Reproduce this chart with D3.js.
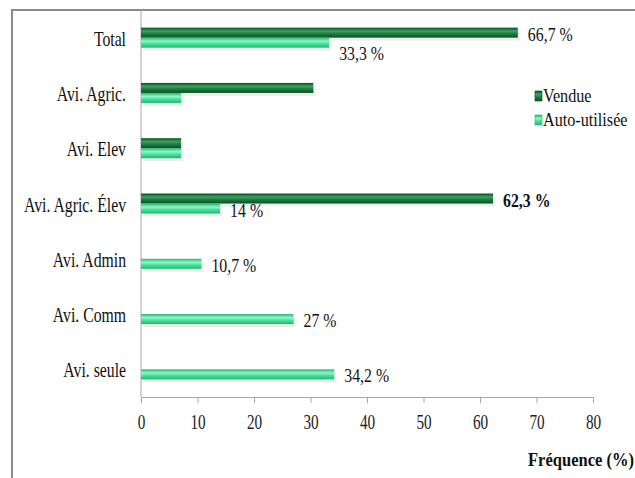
<!DOCTYPE html>
<html>
<head>
<meta charset="utf-8">
<script src="https://cdn.jsdelivr.net/npm/d3@7"></script>
<style>
  body { margin: 0; background: #fff; }
</style>
</head>
<body>
<div id="chart"></div>
<script>
// Data
const categories = ['Total', 'Avi. Agric.', 'Avi. Elev', 'Avi. Agric. Élev', 'Avi. Admin', 'Avi. Comm', 'Avi. seule'];
const vendue = [66.7, 30.5, 7.1, 62.3, null, null, null];
const autoUtilisee = [33.3, 7.1, 7.1, 14, 10.7, 27, 34.2];
const vendueLabels = ['66,7 %', '', '', '62,3 %', '', '', ''];
const autoLabels = ['33,3 %', '', '', '14 %', '10,7 %', '27 %', '34,2 %'];
const xTicks = [0, 10, 20, 30, 40, 50, 60, 70, 80];

const W = 635, H = 478;
const FONT = 'Liberation Serif';
const svg = d3.select('#chart').append('svg')
    .attr('width', W)
    .attr('height', H)
    .attr('font-family', FONT);

// condensed-looking serif text, like the original picture
function label(txt, tx, ty, size, sx, anchor, weight) {
    return svg.append('text')
        .attr('transform', `translate(${tx},${ty}) scale(${sx},1)`)
        .attr('font-family', FONT)
        .attr('font-size', size)
        .attr('font-weight', weight || 'normal')
        .attr('text-anchor', anchor || 'start')
        .attr('fill', '#111')
        .text(txt);
}

// gradients for the cylinder look
const defs = svg.append('defs');
function grad(id, edge, mid, hi) {
    const g = defs.append('linearGradient').attr('id', id)
        .attr('x1', 0).attr('y1', 0).attr('x2', 0).attr('y2', 1);
    g.append('stop').attr('offset', '0%').attr('stop-color', edge);
    g.append('stop').attr('offset', '35%').attr('stop-color', hi);
    g.append('stop').attr('offset', '60%').attr('stop-color', mid);
    g.append('stop').attr('offset', '100%').attr('stop-color', edge);
}
grad('gV', '#0b4d24', '#1f7d41', '#3aa462');
grad('gA', '#25b572', '#48e39c', '#8ff7c8');

// frame
svg.append('path')
    .attr('d', `M12,${H} L12,10 L${W},10`)
    .attr('fill', 'none')
    .attr('stroke', '#8a8a8a')
    .attr('stroke-width', 2);

const x = d3.scaleLinear().domain([0, 80]).range([141, 593]);
const y = d3.scaleBand().domain(categories).range([10, 397]);

// axes
svg.append('line')
    .attr('x1', x(0)).attr('x2', x(0))
    .attr('y1', 10).attr('y2', 397)
    .attr('stroke', '#a8a8a8');

const xAxis = svg.append('g')
    .attr('transform', 'translate(0,397)')
    .call(d3.axisBottom(x).tickValues(xTicks).tickSize(6).tickSizeOuter(0));
xAxis.select('.domain').attr('stroke', '#a8a8a8');
xAxis.selectAll('.tick line').attr('stroke', '#a8a8a8');
xAxis.selectAll('.tick text')
    .attr('font-family', FONT)
    .attr('font-size', 20)
    .attr('fill', '#222')
    .attr('y', 32)
    .attr('dy', null)
    .attr('transform', 'scale(0.76,1)');

// category labels
categories.forEach(c => {
    label(c, 126, y(c) + y.bandwidth() / 2 + 8, 21, 0.75, 'end');
});

const bh = 10;
const rows = categories.map((c, i) => ({ c, v: vendue[i], a: autoUtilisee[i], vl: vendueLabels[i], al: autoLabels[i] }));

// shadows
svg.selectAll('.shadow')
    .data(rows.flatMap(r => [
        r.v != null ? { v: r.v, y: y(r.c) + y.bandwidth() / 2 - bh } : null,
        { v: r.a, y: y(r.c) + y.bandwidth() / 2 }
    ]).filter(d => d))
    .enter().append('rect')
    .attr('x', x(0) + 2)
    .attr('y', d => d.y + 3)
    .attr('width', d => x(d.v) - x(0))
    .attr('height', bh)
    .attr('fill', '#000')
    .attr('opacity', 0.07);

svg.selectAll('.barV')
    .data(rows.filter(r => r.v != null))
    .enter().append('rect')
    .attr('x', x(0))
    .attr('y', d => y(d.c) + y.bandwidth() / 2 - bh)
    .attr('width', d => x(d.v) - x(0))
    .attr('height', bh)
    .attr('fill', 'url(#gV)');

svg.selectAll('.barA')
    .data(rows)
    .enter().append('rect')
    .attr('x', x(0))
    .attr('y', d => y(d.c) + y.bandwidth() / 2)
    .attr('width', d => x(d.a) - x(0))
    .attr('height', bh)
    .attr('fill', 'url(#gA)');

// value labels
rows.forEach(d => {
    const cy = y(d.c) + y.bandwidth() / 2;
    if (d.vl) {
        label(d.vl, x(d.v) + 10, cy + 3, 18, 0.88, 'start',
            d.c === 'Avi. Agric. Élev' ? 'bold' : 'normal');
    }
    if (d.al) {
        label(d.al, x(d.a) + 10, cy + (d.c === 'Total' ? 22 : 13), 18, 0.88, 'start');
    }
});

// legend
[['Vendue', 'url(#gV)', '#0b4d24'], ['Auto-utilisée', 'url(#gA)', '#25b572']].forEach((d, i) => {
    svg.append('rect')
        .attr('x', 535).attr('y', 91 + i * 24)
        .attr('width', 7).attr('height', 10)
        .attr('fill', d[1]).attr('stroke', d[2]).attr('stroke-width', 0.6);
    label(d[0], 543, 102 + i * 24, 18, 0.9, 'start');
});

// axis title
label('Fréquence (%)', 634, 466, 19, 0.87, 'end', 'bold');
</script>
</body>
</html>
